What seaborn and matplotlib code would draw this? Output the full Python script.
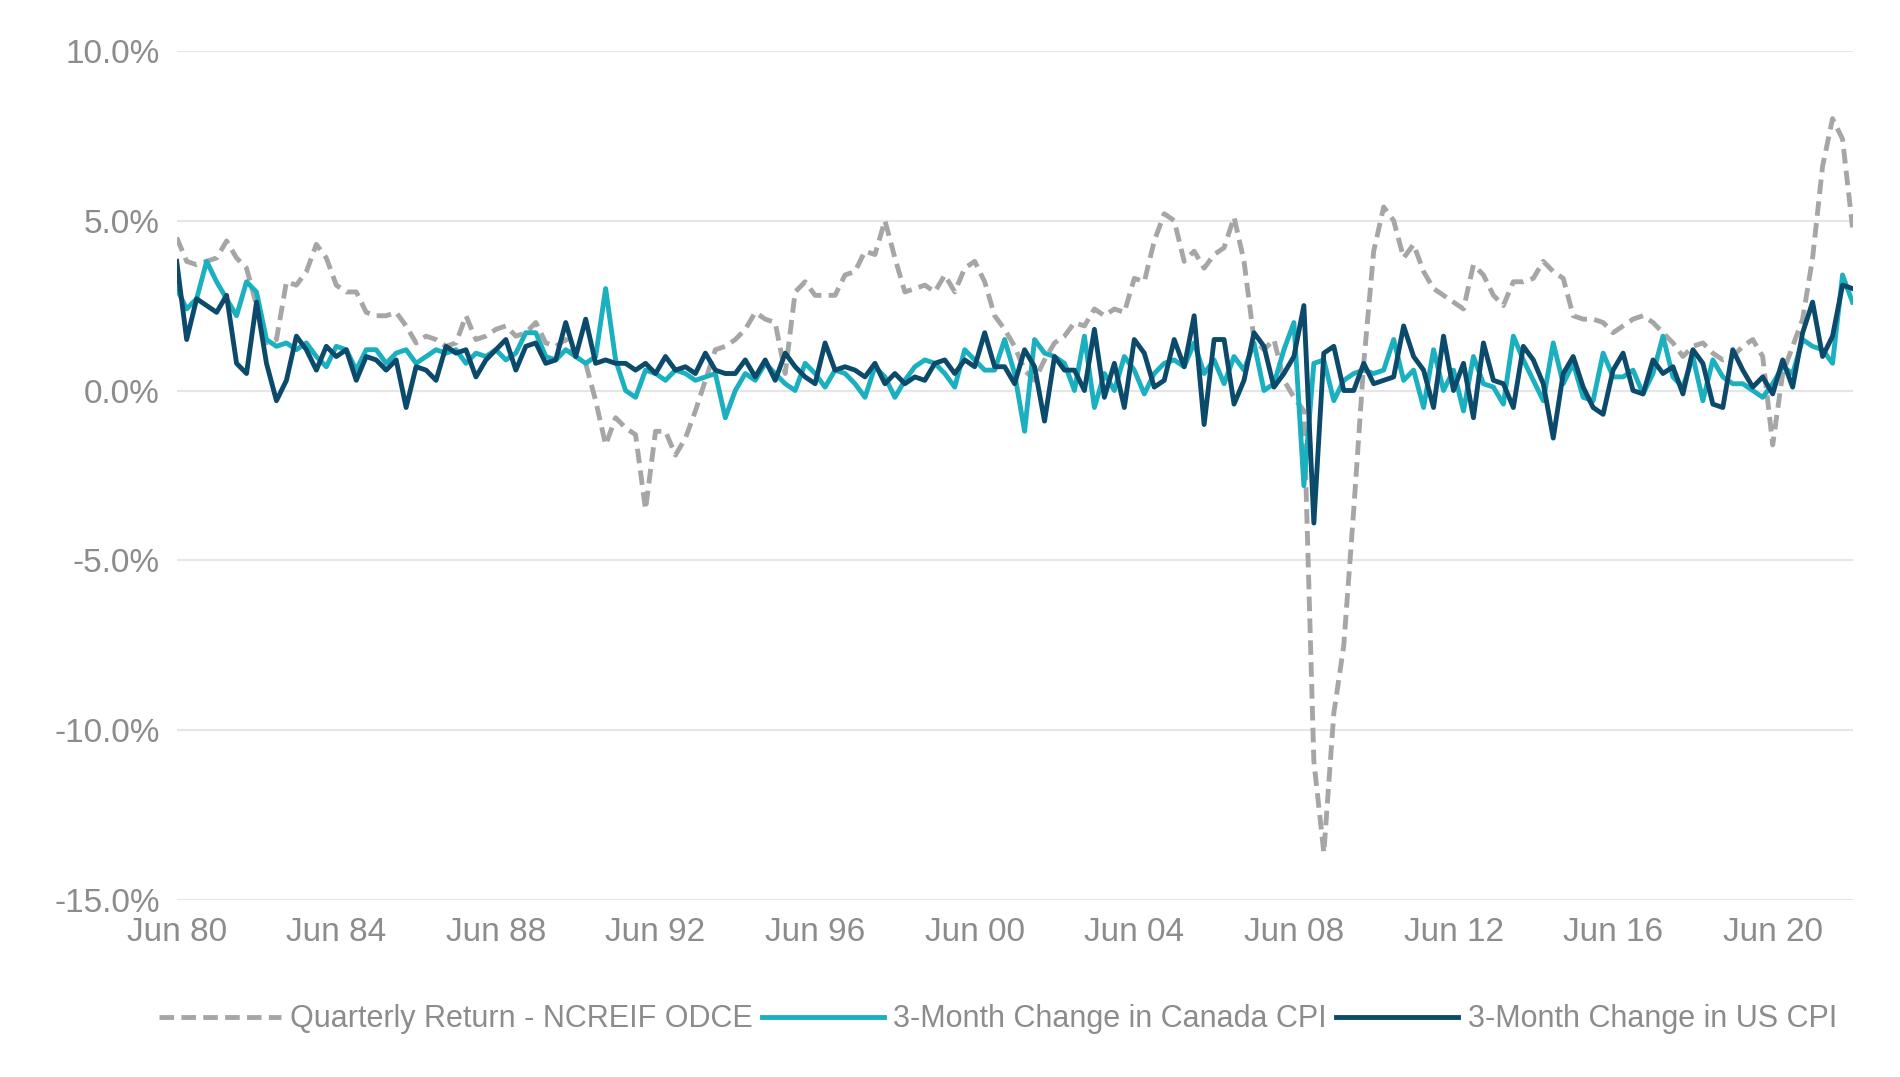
import numpy as np
import pandas as pd
import matplotlib.pyplot as plt
import matplotlib.ticker as mtick
import seaborn as sns

# quarterly values, Jun 1980 .. Jun 2022 (rows = Jun, Sep, Dec, Mar)
odce = [
    4.5, 3.8, 3.7, 3.8,  3.9, 4.4, 3.9, 3.6,  2.5, 1.4, 1.5, 3.2,  3.1, 3.5, 4.3, 3.9,
    3.1, 2.9, 2.9, 2.3,  2.2, 2.2, 2.3, 1.9,  1.4, 1.6, 1.5, 1.3,  1.4, 2.2, 1.5, 1.6,
    1.8, 1.9, 1.6, 1.7,  2.0, 1.4, 1.3, 1.5,  1.0, 0.8, -0.3, -1.6, -0.8, -1.1, -1.3, -3.5,
    -1.2, -1.2, -1.9, -1.4, -0.6, 0.3, 1.2, 1.3,  1.5, 1.8, 2.3, 2.1,  2.0, 0.5, 2.9, 3.2,
    2.8, 2.8, 2.8, 3.4,  3.5, 4.1, 4.0, 5.0,  3.9, 2.9, 3.0, 3.1,  2.9, 3.4, 2.9, 3.6,
    3.8, 3.2, 2.2, 1.8,  1.3, 0.6, 0.3, 0.9,  1.4, 1.6, 2.0, 1.9,  2.4, 2.2, 2.4, 2.3,
    3.3, 3.2, 4.4, 5.2,  5.0, 3.8, 4.1, 3.6,  4.0, 4.2, 5.1, 3.8,  1.5, 1.2, 1.5, 0.3,
    -0.2, -0.6, -10.9, -13.6, -9.5, -7.5, -3.5, 0.8,  4.1, 5.4, 5.0, 3.9,  4.3, 3.5, 3.0, 2.8,
    2.6, 2.4, 3.7, 3.4,  2.8, 2.5, 3.2, 3.2,  3.3, 3.8, 3.5, 3.3,  2.2, 2.1, 2.1, 2.0,
    1.7, 1.9, 2.1, 2.2,  2.0, 1.7, 1.4, 1.0,  1.3, 1.4, 1.1, 0.9,  1.0, 1.3, 1.5, 1.0,
    -1.6, 0.5, 1.3, 2.1,  3.9, 6.6, 8.0, 7.4,  4.8,
]
canada_cpi = [
    3.0, 2.4, 2.7, 3.8,  3.2, 2.7, 2.2, 3.2,  2.9, 1.5, 1.3, 1.4,  1.2, 1.4, 1.0, 0.7,
    1.3, 1.2, 0.6, 1.2,  1.2, 0.8, 1.1, 1.2,  0.8, 1.0, 1.2, 1.1,  1.2, 0.8, 1.1, 1.0,
    1.2, 0.9, 1.1, 1.7,  1.7, 1.0, 0.9, 1.2,  1.0, 0.8, 1.0, 3.0,  0.9, 0.0, -0.2, 0.6,
    0.5, 0.3, 0.6, 0.5,  0.3, 0.4, 0.5, -0.8,  0.0, 0.5, 0.3, 0.8,  0.5, 0.2, 0.0, 0.8,
    0.5, 0.1, 0.6, 0.5,  0.2, -0.2, 0.7, 0.4,  -0.2, 0.3, 0.7, 0.9,  0.8, 0.5, 0.1, 1.2,
    0.9, 0.6, 0.6, 1.5,  0.5, -1.2, 1.5, 1.1,  1.0, 0.8, 0.0, 1.6,  -0.5, 0.5, 0.0, 1.0,
    0.6, -0.1, 0.5, 0.8,  0.9, 0.7, 1.4, 0.5,  0.9, 0.2, 1.0, 0.6,  1.4, 0.0, 0.2, 1.2,
    2.0, -2.8, 0.8, 0.9,  -0.3, 0.3, 0.5, 0.6,  0.5, 0.6, 1.5, 0.3,  0.6, -0.5, 1.2, 0.0,
    0.6, -0.6, 1.0, 0.2,  0.1, -0.4, 1.6, 0.9,  0.3, -0.3, 1.4, 0.2,  0.8, -0.2, -0.3, 1.1,
    0.4, 0.4, 0.6, -0.1,  0.5, 1.6, 0.4, 0.1,  1.0, -0.3, 0.9, 0.4,  0.2, 0.2, 0.0, -0.2,
    0.2, 0.7, 0.5, 1.5,  1.3, 1.2, 0.8, 3.4,  2.6,
]
us_cpi = [
    3.8, 1.5, 2.7, 2.5,  2.3, 2.8, 0.8, 0.5,  2.6, 0.8, -0.3, 0.3,  1.6, 1.2, 0.6, 1.3,
    1.0, 1.2, 0.3, 1.0,  0.9, 0.6, 0.9, -0.5,  0.7, 0.6, 0.3, 1.3,  1.1, 1.2, 0.4, 0.9,
    1.2, 1.5, 0.6, 1.3,  1.4, 0.8, 0.9, 2.0,  1.0, 2.1, 0.8, 0.9,  0.8, 0.8, 0.6, 0.8,
    0.5, 1.0, 0.6, 0.7,  0.5, 1.1, 0.6, 0.5,  0.5, 0.9, 0.4, 0.9,  0.3, 1.1, 0.7, 0.4,
    0.2, 1.4, 0.6, 0.7,  0.6, 0.4, 0.8, 0.2,  0.5, 0.2, 0.4, 0.3,  0.8, 0.9, 0.5, 0.9,
    0.7, 1.7, 0.7, 0.7,  0.2, 1.2, 0.7, -0.9,  1.0, 0.6, 0.6, 0.0,  1.8, -0.2, 0.8, -0.5,
    1.5, 1.1, 0.1, 0.3,  1.5, 0.7, 2.2, -1.0,  1.5, 1.5, -0.4, 0.3,  1.7, 1.3, 0.1, 0.5,
    1.0, 2.5, -3.9, 1.1,  1.3, 0.0, 0.0, 0.8,  0.2, 0.3, 0.4, 1.9,  1.0, 0.6, -0.5, 1.6,
    0.0, 0.8, -0.8, 1.4,  0.3, 0.2, -0.5, 1.3,  0.9, 0.2, -1.4, 0.5,  1.0, 0.1, -0.5, -0.7,
    0.6, 1.1, 0.0, -0.1,  0.9, 0.5, 0.7, -0.1,  1.2, 0.8, -0.4, -0.5,  1.2, 0.6, 0.1, 0.4,
    -0.1, 0.9, 0.1, 1.7,  2.6, 1.0, 1.6, 3.1,  3.0,
]
tick_labels = ["Jun 80", "Jun 84", "Jun 88", "Jun 92", "Jun 96", "Jun 00",
               "Jun 04", "Jun 08", "Jun 12", "Jun 16", "Jun 20"]

q = np.arange(len(odce))
df = pd.DataFrame({"q": q, "odce": odce, "ca": canada_cpi, "us": us_cpi})

plt.rcParams["font.family"] = "Liberation Sans"
fig, ax = plt.subplots(figsize=(19, 10.77), dpi=100)
fig.subplots_adjust(left=0.093, right=0.975, top=0.953, bottom=0.164)

sns.lineplot(data=df, x="q", y="odce", ax=ax, color="#a6a6a6", lw=3.5,
             linestyle=(0, (3, 1.5)), label="Quarterly Return - NCREIF ODCE")
sns.lineplot(data=df, x="q", y="ca", ax=ax, color="#1ab0bf", lw=3.5,
             label="3-Month Change in Canada CPI")
sns.lineplot(data=df, x="q", y="us", ax=ax, color="#0b4a6b", lw=3.5,
             label="3-Month Change in US CPI")

ax.set_xlim(0, len(odce) - 1)
ax.set_ylim(-15, 10)
ax.set_yticks([-15, -10, -5, 0, 5, 10])
ax.yaxis.set_major_formatter(mtick.FuncFormatter(lambda v, p: f"{v:.1f}%"))
ax.set_xticks(np.arange(0, 16 * len(tick_labels), 16))
ax.set_xticklabels(tick_labels)
ax.grid(axis="y", color="#e6e6e6", lw=1.5)
ax.set_axisbelow(True)
for s in ["top", "right", "left", "bottom"]:
    ax.spines[s].set_visible(False)
ax.axhline(0, color="#d9d9d9", lw=1.5, zorder=0)
ax.tick_params(axis="both", length=0, labelsize=24, labelcolor="#8c8c8c", pad=12)
ax.set_xlabel("")
ax.set_ylabel("")

leg = ax.legend(loc="upper center", bbox_to_anchor=(0.49, -0.09), ncol=3, frameon=False,
                fontsize=22, handlelength=4, columnspacing=0.3, handletextpad=0.3)
for t in leg.get_texts():
    t.set_color("#8c8c8c")

fig.savefig("out.png")
